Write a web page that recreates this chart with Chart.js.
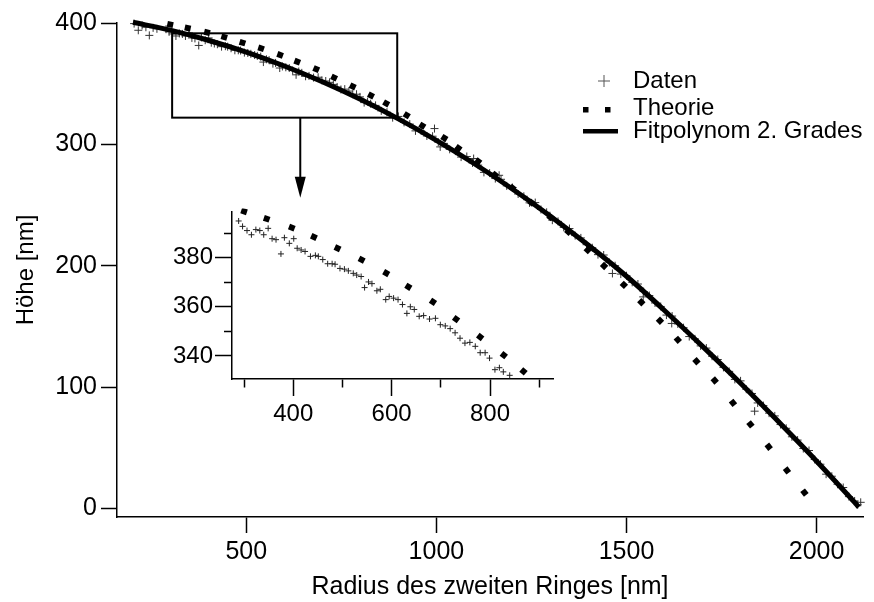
<!DOCTYPE html>
<html>
<head>
<meta charset="utf-8">
<script src="https://cdn.jsdelivr.net/npm/chart.js@4.4.1/dist/chart.umd.min.js"></script>
<style>
    html, body { margin: 0; padding: 0; background: #fff; }
    #wrap { position: relative; width: 874px; height: 602px; }
    #main { position: absolute; left: 0; top: 0; }
    #inset { position: absolute; left: 140px; top: 195px; }
</style>
</head>
<body>
<div id="wrap">
    <canvas id="main" width="874" height="602"></canvas>
    <canvas id="inset" width="430" height="240"></canvas>
</div>
<script>
// Messdaten (Radius [nm], Höhe [nm])
const datenR = [205, 216, 226, 236, 245, 255, 265,
    289, 297, 306, 315, 324, 332, 340, 349, 357, 365, 375, 382, 392, 401, 408, 416, 424, 435, 445, 451,
    460, 470, 479, 485, 495, 504, 512, 522, 529, 538, 545, 553, 560, 570, 577, 588, 595, 604, 613, 622,
    631, 638, 646, 656, 665, 677, 689, 699, 709, 719, 729, 739, 749, 759, 770, 780, 790, 799, 810, 819, 827,
    840, 855, 870, 885, 900, 915, 930, 945, 960, 975, 990, 995, 1005, 1010, 1020, 1035, 1050, 1065, 1080,
    1095, 1098, 1110, 1125, 1140, 1155, 1165, 1170, 1185, 1200, 1215, 1230, 1245, 1260, 1275, 1290, 1305,
    1320, 1335, 1350, 1365, 1380, 1395, 1410, 1425, 1440, 1455, 1463, 1470, 1485, 1500, 1515, 1530, 1544,
    1545, 1560, 1575, 1590, 1605, 1619, 1620, 1635, 1650, 1665, 1680, 1695, 1710, 1725, 1740, 1755, 1770,
    1785, 1800, 1815, 1830, 1837, 1845, 1860, 1875, 1890, 1905, 1920, 1935, 1950, 1965, 1980, 1995, 2010,
    2025, 2040, 2055, 2070, 2085, 2100, 2108, 2116];
const datenH = [399.5, 394.0, 398.0, 396.5, 389.8, 396.0, 395.2,
    394.9, 392.7, 391.0, 389.3, 391.4, 391.0, 389.3, 391.9, 387.7, 387.3, 381.5, 388.1, 385.8, 387.7, 383.8, 383.1, 382.5, 380.5, 380.9, 380.5,
    379.2, 377.5, 377.5, 377.3, 375.6, 375.3, 374.6, 373.6, 372.9, 372.3, 367.8, 370.1, 369.4, 366.5, 367.1, 362.9, 364.2, 363.5, 362.9, 360.9,
    357.3, 360.0, 358.9, 356.1, 356.4, 355.0, 355.3, 352.7, 352.2, 351.1, 349.4, 347.2, 345.2, 345.5, 343.9, 341.3, 341.3, 339.1, 334.4, 335.2, 333.5,
    332.1, 327.6, 326.5, 322.0, 323.0, 318.1, 316.7, 311.1, 311.0, 306.9, 306.7, 313.0, 301.8, 297.9, 300.8, 295.9, 294.4, 289.5, 290.0,
    284.7, 288.3, 282.9, 276.9, 276.3, 271.8, 274.5, 271.2, 265.8, 264.4, 259.1, 257.2, 251.8, 252.0, 246.3, 244.0, 237.5,
    236.5, 231.6, 230.6, 224.8, 222.9, 217.3, 214.8, 209.1, 208.8, 202.7, 193.6, 200.0, 193.1, 191.7, 186.3, 184.9, 174.3,
    178.7, 175.4, 169.3, 166.4, 159.3, 152.4, 158.5, 152.0, 148.9, 141.6, 139.7, 133.9, 132.1, 125.4, 122.7, 116.2, 112.9,
    106.3, 105.1, 98.2, 94.7, 80.1, 86.9, 84.7, 78.5, 76.2, 69.1, 66.0, 59.0, 56.3, 49.3, 47.7, 40.3, 36.4,
    28.2, 26.5, 19.9, 17.2, 9.7, 6.1, 3.0, 5.0];

// Theorie
const theorieR = [300, 346, 397, 442, 490, 539, 589, 634, 684, 731, 780, 828, 868, 922, 963, 1021, 1058, 1110,
    1154, 1200, 1250, 1300, 1347, 1398, 1441, 1493, 1539, 1588, 1635, 1684, 1732, 1780, 1826, 1874, 1922, 1968];
const theorieH = [398.8, 395.8, 392.2, 388.4, 383.8, 379.1, 373.7, 368.1, 362.0, 355.0, 347.7, 340.3, 333.7, 324.0, 315.3, 305.2, 296.8, 286.0,
    274.8, 264.0, 252.0, 240.0, 228.0, 212.8, 199.8, 184.2, 169.9, 154.6, 138.9, 121.3, 105.4, 87.0, 69.2, 50.8, 31.3, 13.0];

// Fitpolynom 2. Grades
const fitR = [202, 300, 400, 500, 600, 700, 800, 900, 1000, 1100, 1200, 1300, 1400, 1500, 1600, 1700, 1800, 1900, 2000, 2100, 2111];
const fitH = [400.6, 394.1, 385.8, 376.0, 364.6, 351.6, 337.1, 321.0, 303.3, 284.0, 263.2, 240.8, 216.8, 191.3, 163.1, 133.5, 103.1, 71.3, 38.9, 4.9, 1.0];

// Achsenbeschriftung
const xTicksMain = [500, 1000, 1500, 2000];
const yTicksMain = [0, 100, 200, 300, 400];

// Ausschnitt (Rechteck im Hauptdiagramm) und Pfeil
const zoomBox = { r0: 305, r1: 897, h0: 322, h1: 391.5 };
const arrow = { r: 642, h0: 322, h1: 256 };

const FONT = '"Liberation Sans", Arial, sans-serif';

function toPts(xs, ys) {
    return xs.map(function(x, i) { return { x: x, y: ys[i] }; });
}

function fixedTicks(values) {
    return function(scale) {
        scale.ticks = values.map(function(v) { return { value: v }; });
    };
}

// squares follow the direction of the curve
function theoryRotation(ctx) {
    const i = ctx.dataIndex;
    const xs = ctx.chart.scales.x, ys = ctx.chart.scales.y;
    const a = Math.max(i - 1, 0), b = Math.min(i + 1, theorieR.length - 1);
    const dx = xs.getPixelForValue(theorieR[b]) - xs.getPixelForValue(theorieR[a]);
    const dy = ys.getPixelForValue(theorieH[b]) - ys.getPixelForValue(theorieH[a]);
    return Math.atan2(dy, dx) * 180 / Math.PI;
}

const overlay = {
    id: 'overlay',
    afterDraw: function(chart) {
        const ctx = chart.ctx;
        const xs = chart.scales.x, ys = chart.scales.y;
        ctx.save();
        ctx.strokeStyle = '#000';
        ctx.lineWidth = 2;
        const x0 = xs.getPixelForValue(zoomBox.r0), x1 = xs.getPixelForValue(zoomBox.r1);
        const y0 = ys.getPixelForValue(zoomBox.h1), y1 = ys.getPixelForValue(zoomBox.h0);
        ctx.strokeRect(x0, y0, x1 - x0, y1 - y0);

        const ax = xs.getPixelForValue(arrow.r);
        const ay0 = ys.getPixelForValue(arrow.h0), ay1 = ys.getPixelForValue(arrow.h1);
        ctx.beginPath();
        ctx.moveTo(ax, ay0);
        ctx.lineTo(ax, ay1 - 18);
        ctx.stroke();
        ctx.fillStyle = '#000';
        ctx.beginPath();
        ctx.moveTo(ax - 5.5, ay1 - 21);
        ctx.lineTo(ax + 5.5, ay1 - 21);
        ctx.lineTo(ax, ay1);
        ctx.closePath();
        ctx.fill();

        // legend
        ctx.strokeStyle = '#555';
        ctx.lineWidth = 1;
        ctx.beginPath();
        ctx.moveTo(598, 81); ctx.lineTo(610, 81);
        ctx.moveTo(604, 75); ctx.lineTo(604, 87);
        ctx.stroke();
        ctx.fillRect(583, 107, 5.5, 5.5);
        ctx.fillRect(605, 107, 5.5, 5.5);
        ctx.fillRect(583, 129, 35, 4.5);
        ctx.font = '24px ' + FONT;
        ctx.textBaseline = 'middle';
        ctx.textAlign = 'left';
        ctx.fillText('Daten', 633, 81);
        ctx.fillText('Theorie', 633, 108);
        ctx.fillText('Fitpolynom 2. Grades', 633, 131);
        ctx.restore();
    }
};

new Chart(document.getElementById('main').getContext('2d'), {
    type: 'scatter',
    data: {
        datasets: [{
            label: 'Fitpolynom 2. Grades',
            type: 'line',
            data: toPts(fitR, fitH),
            borderColor: '#000',
            borderWidth: 5,
            pointRadius: 0,
            cubicInterpolationMode: 'monotone',
            fill: false,
            clip: false,
            order: 2
        }, {
            label: 'Theorie',
            data: toPts(theorieR, theorieH),
            pointStyle: 'rect',
            pointRadius: 4.2,
            pointRotation: theoryRotation,
            backgroundColor: '#000',
            borderColor: '#000',
            borderWidth: 0,
            clip: false,
            order: 1
        }, {
            label: 'Daten',
            data: toPts(datenR, datenH),
            pointStyle: 'cross',
            pointRadius: 4,
            borderColor: '#333',
            borderWidth: 1,
            clip: false,
            order: 3
        }]
    },
    options: {
        responsive: false,
        animation: false,
        layout: { padding: { left: 0, top: 23, right: 11, bottom: 0 } },
        plugins: { legend: { display: false }, tooltip: { enabled: false } },
        scales: {
            x: {
                type: 'linear',
                min: 160,
                max: 2122,
                afterFit: function(s) { s.height = 85; },
                afterBuildTicks: fixedTicks(xTicksMain),
                border: { color: '#000', width: 1.5 },
                grid: { drawOnChartArea: false, tickLength: 16, tickColor: '#000', tickWidth: 1.5 },
                ticks: {
                    color: '#000', padding: 4, maxRotation: 0, font: { family: FONT, size: 25 },
                    callback: function(v) { return String(v); }
                },
                title: { display: true, text: 'Radius des zweiten Ringes [nm]', color: '#000', padding: { top: 0, bottom: 2 }, font: { family: FONT, size: 25, lineHeight: 1 } }
            },
            y: {
                type: 'linear',
                min: -7.1,
                max: 400,
                afterFit: function(s) { s.width = 117; },
                afterBuildTicks: fixedTicks(yTicksMain),
                border: { color: '#000', width: 1.5 },
                grid: { drawOnChartArea: false, tickLength: 16, tickColor: '#000', tickWidth: 1.5 },
                ticks: {
                    color: '#000', padding: 4, font: { family: FONT, size: 25 },
                    callback: function(v) { return String(v); }
                },
                title: { display: true, text: 'Höhe [nm]', color: '#000', padding: { top: 12, bottom: 0 }, font: { family: FONT, size: 24 } }
            }
        }
    },
    plugins: [overlay]
});

function isMajor(ctx, step) {
    return ctx.tick && Math.round(ctx.tick.value) % step === 0;
}

new Chart(document.getElementById('inset').getContext('2d'), {
    type: 'scatter',
    data: {
        datasets: [{
            label: 'Theorie',
            data: toPts(theorieR, theorieH),
            pointStyle: 'rect',
            pointRadius: 4.2,
            pointRotation: theoryRotation,
            backgroundColor: '#000',
            borderWidth: 0,
            clip: 3,
            order: 1
        }, {
            label: 'Daten',
            data: toPts(datenR, datenH),
            pointStyle: 'cross',
            pointRadius: 3,
            borderColor: '#222',
            borderWidth: 1,
            clip: 3,
            order: 2
        }]
    },
    options: {
        responsive: false,
        animation: false,
        layout: { padding: { left: 0, top: 10, right: 17, bottom: 0 } },
        plugins: { legend: { display: false }, tooltip: { enabled: false } },
        scales: {
            x: {
                type: 'linear',
                min: 275.5,
                max: 928,
                afterFit: function(s) { s.height = 56; },
                border: { color: '#000', width: 1.5 },
                grid: {
                    drawOnChartArea: false, tickLength: 17, tickColor: '#000', tickWidth: 1.5,
                    tickBorderDash: function(ctx) { return isMajor(ctx, 200) ? [] : [8, 100]; }
                },
                ticks: {
                    stepSize: 100, includeBounds: false, color: '#000', padding: 4, maxRotation: 0,
                    font: { family: FONT, size: 24 },
                    callback: function(v) { return v % 200 === 0 ? String(v) : ''; }
                }
            },
            y: {
                type: 'linear',
                min: 330.6,
                max: 398.8,
                afterFit: function(s) { s.width = 92; },
                border: { color: '#000', width: 1.5 },
                grid: {
                    drawOnChartArea: false, tickLength: 17, tickColor: '#000', tickWidth: 1.5,
                    tickBorderDash: function(ctx) { return isMajor(ctx, 20) ? [] : [0, 9, 8, 100]; }
                },
                ticks: {
                    stepSize: 10, includeBounds: false, color: '#000', padding: 2,
                    font: { family: FONT, size: 24 },
                    callback: function(v) { return v % 20 === 0 ? String(v) : ''; }
                }
            }
        }
    }
});
</script>
</body>
</html>
